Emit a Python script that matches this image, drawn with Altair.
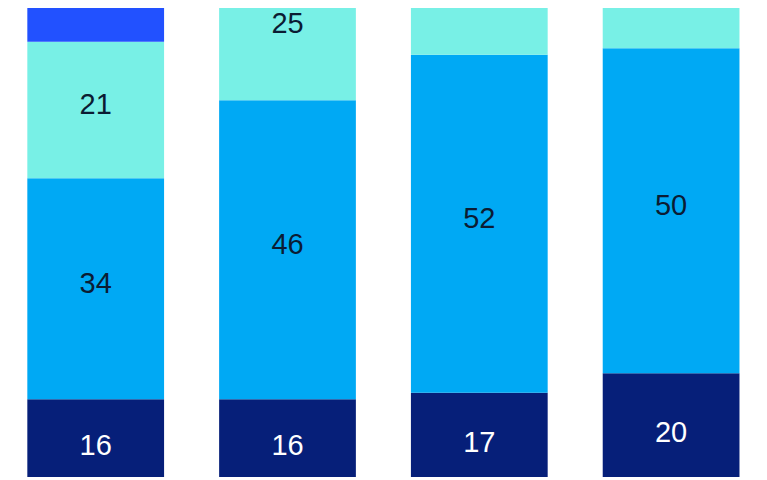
import altair as alt
import pandas as pd

groups = ["A", "B", "C", "D"]
series = ["s1", "s2", "s3", "s4"]
s1_vals = [16, 16, 17, 20]
s2_vals = [34, 46, 52, 50]
s3_vals = [21, 25, 23, 22]
s4_vals = [29, 13, 8, 8]
colors = ["#061f79", "#00a9f4", "#78f0e6", "#2251ff"]
label_colors = ["#ffffff", "#0b1c33", "#0b1c33", "#0b1c33"]

rows = []
for i, g in enumerate(groups):
    for j, (s, vals) in enumerate(zip(series, [s1_vals, s2_vals, s3_vals, s4_vals])):
        rows.append({"group": g, "series": s, "order": j, "value": vals[i]})
df = pd.DataFrame(rows)

W, H = 751, 469
top_off = 8
px_per_unit = 6.5
base_img = 503.3
y_top = (base_img - top_off) / px_per_unit
y_bot = (base_img - top_off - H) / px_per_unit
label_max = (base_img - 28.5) / px_per_unit

xscale = alt.Scale(domain=groups, range=[-8.2, 759.0], paddingInner=0.287, paddingOuter=0.1435)
yscale = alt.Scale(domain=[y_bot, y_top], nice=False, zero=False)

base = alt.Chart(df).transform_stack(
    stack="value", groupby=["group"], as_=["v0", "v1"], sort=[alt.SortField("order")]
).transform_calculate(mid="(datum.v0 + datum.v1) / 2")

bars = base.mark_bar(clip=True).encode(
    x=alt.X("group:N", scale=xscale, axis=None),
    y=alt.Y("v0:Q", scale=yscale, axis=None),
    y2="v1:Q",
    color=alt.Color("series:N", scale=alt.Scale(domain=series, range=colors), legend=None),
)

labels = base.transform_filter(f"datum.mid < {y_top}").transform_calculate(
    lab=f"min(datum.mid, {label_max})"
).mark_text(
    font="Liberation Sans", fontSize=29, baseline="middle", dy=-5
).encode(
    x=alt.X("group:N", scale=xscale, axis=None),
    y=alt.Y("lab:Q", scale=yscale, axis=None),
    text="value:Q",
    color=alt.Color("series:N", scale=alt.Scale(domain=series, range=label_colors), legend=None),
)

chart = alt.layer(bars, labels).resolve_scale(color="independent").properties(
    width=W, height=H, padding=0, autosize=alt.AutoSizeParams(type="none")
).configure_view(stroke=None)

chart.save("out.html", embed_options={"renderer": "svg", "actions": False})
